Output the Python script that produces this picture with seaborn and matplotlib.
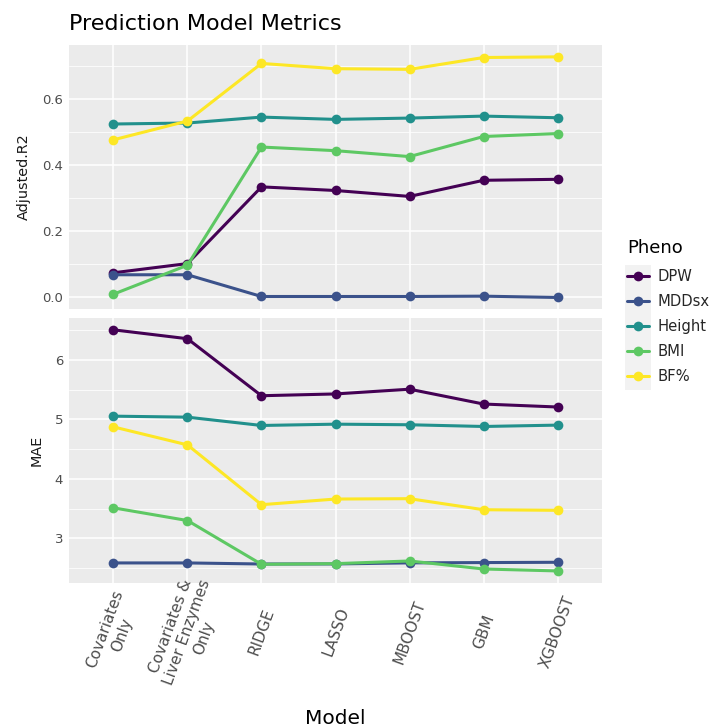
import pandas as pd
import numpy as np
import matplotlib
matplotlib.use('Agg')
import matplotlib.pyplot as plt
from matplotlib.ticker import MultipleLocator
from matplotlib.patches import Rectangle
import seaborn as sns

# 模型 (x轴类别)
models = ['Covariates\nOnly', 'Covariates &\nLiver Enzymes\nOnly', 'RIDGE', 'LASSO',
          'MBOOST', 'GBM', 'XGBOOST']
phenos = ['DPW', 'MDDsx', 'Height', 'BMI', 'BF%']
colors = ['#440154', '#3B528B', '#21908C', '#5DC863', '#FDE725']

# Adjusted.R2
r2_dpw = [0.073, 0.101, 0.334, 0.323, 0.305, 0.354, 0.357]
r2_mdd = [0.067, 0.067, 0.001, 0.001, 0.001, 0.002, -0.002]
r2_height = [0.525, 0.528, 0.546, 0.539, 0.543, 0.549, 0.544]
r2_bmi = [0.008, 0.096, 0.455, 0.444, 0.426, 0.487, 0.496]
r2_bf = [0.477, 0.534, 0.709, 0.693, 0.691, 0.727, 0.729]

# MAE
mae_dpw = [6.51, 6.36, 5.40, 5.43, 5.51, 5.26, 5.21]
mae_mdd = [2.584, 2.584, 2.566, 2.567, 2.585, 2.590, 2.595]
mae_height = [5.056, 5.039, 4.899, 4.921, 4.911, 4.882, 4.905]
mae_bmi = [3.512, 3.298, 2.561, 2.572, 2.617, 2.482, 2.449]
mae_bf = [4.875, 4.572, 3.565, 3.660, 3.666, 3.480, 3.470]


def make_long(series, metric):
    rows = []
    for pheno, vals in zip(phenos, series):
        for m, v in zip(models, vals):
            rows.append({'Model': m, 'Pheno': pheno, metric: v})
    return pd.DataFrame(rows)


df_r2 = make_long([r2_dpw, r2_mdd, r2_height, r2_bmi, r2_bf], 'Adjusted.R2')
df_mae = make_long([mae_dpw, mae_mdd, mae_height, mae_bmi, mae_bf], 'MAE')

sns.set_theme(style='darkgrid', rc={
    'axes.facecolor': '#EBEBEB',
    'grid.color': 'white',
    'axes.edgecolor': 'none',
})
plt.rcParams['font.family'] = ['DejaVu Sans']

fig = plt.figure(figsize=(7.14, 7.27), dpi=100)
W, H = 714, 727


def px_axes(x0, y0, x1, y1):
    return fig.add_axes([x0 / W, 1 - y1 / H, (x1 - x0) / W, (y1 - y0) / H])


ax1 = px_axes(69, 45, 602, 309)
ax2 = px_axes(69, 318, 602, 583)

palette = dict(zip(phenos, colors))
line_kw = dict(hue='Pheno', hue_order=phenos, palette=palette, marker='o',
               markersize=7, markeredgewidth=0, linewidth=2.2, sort=False)
sns.lineplot(data=df_r2, x='Model', y='Adjusted.R2', ax=ax1, legend=False, **line_kw)
sns.lineplot(data=df_mae, x='Model', y='MAE', ax=ax2, **line_kw)

ax1.set_ylim(-0.037, 0.765)
ax2.set_ylim(2.246, 6.709)
ax1.yaxis.set_major_locator(MultipleLocator(0.2))
ax1.yaxis.set_minor_locator(MultipleLocator(0.1))
ax2.yaxis.set_major_locator(MultipleLocator(1))
ax2.yaxis.set_minor_locator(MultipleLocator(0.5))
ax1.yaxis.set_major_formatter(matplotlib.ticker.FormatStrFormatter('%.1f'))

for ax in (ax1, ax2):
    ax.set_xlim(-0.6, 6.6)
    ax.grid(which='major', color='white', linewidth=1.1)
    ax.grid(which='minor', axis='y', color='white', linewidth=0.55)
    ax.tick_params(axis='both', which='major', length=2.2, width=0.8, color='#333333',
                   labelsize=9.5, labelcolor='#4D4D4D', pad=2)
    ax.tick_params(which='minor', length=0)
    ax.set_axisbelow(True)

ax1.tick_params(axis='x', length=0, labelbottom=False)
ax1.set_xlabel('')
ax1.set_ylabel('Adjusted.R2', fontsize=10.4, color='#1A1A1A', labelpad=8)
ax2.set_ylabel('MAE', fontsize=10.4, color='#1A1A1A', labelpad=8)
ax2.set_xlabel('')

# x轴标签: 旋转70度, 以刻度为中心
ax2.set_xticks(range(len(models)))
ax2.set_xticklabels(models, rotation=70, ha='center', va='center',
                    rotation_mode='anchor', multialignment='center',
                    fontsize=11, color='#4D4D4D')
ax2.tick_params(axis='x', pad=33)

fig.text(335 / W, 1 - 718 / H, 'Model', ha='center', va='center', fontsize=14.5,
         color='black')
fig.text(69 / W, 1 - 24 / H, 'Prediction Model Metrics', ha='left', va='center',
         fontsize=16, color='black')

# 图例 (标题单独绘制)
handles, labels = ax2.get_legend_handles_labels()
ax2.get_legend().remove()
fig.patches.append(Rectangle((625 / W, 1 - 390 / H), 26 / W, 125 / H,
                             transform=fig.transFigure, facecolor='#F2F2F2',
                             edgecolor='none', zorder=0))
fig.text(627 / W, 1 - 248 / H, 'Pheno', ha='left', va='center', fontsize=13,
         color='black')
leg = fig.legend(handles, labels, loc='upper left',
                 bbox_to_anchor=(627 / W, 1 - 269 / H), frameon=False,
                 borderpad=0, borderaxespad=0,
                 fontsize=10.6, handlelength=1.5, handletextpad=0.6,
                 labelspacing=0.68)

fig.savefig('out.png', dpi=100)
